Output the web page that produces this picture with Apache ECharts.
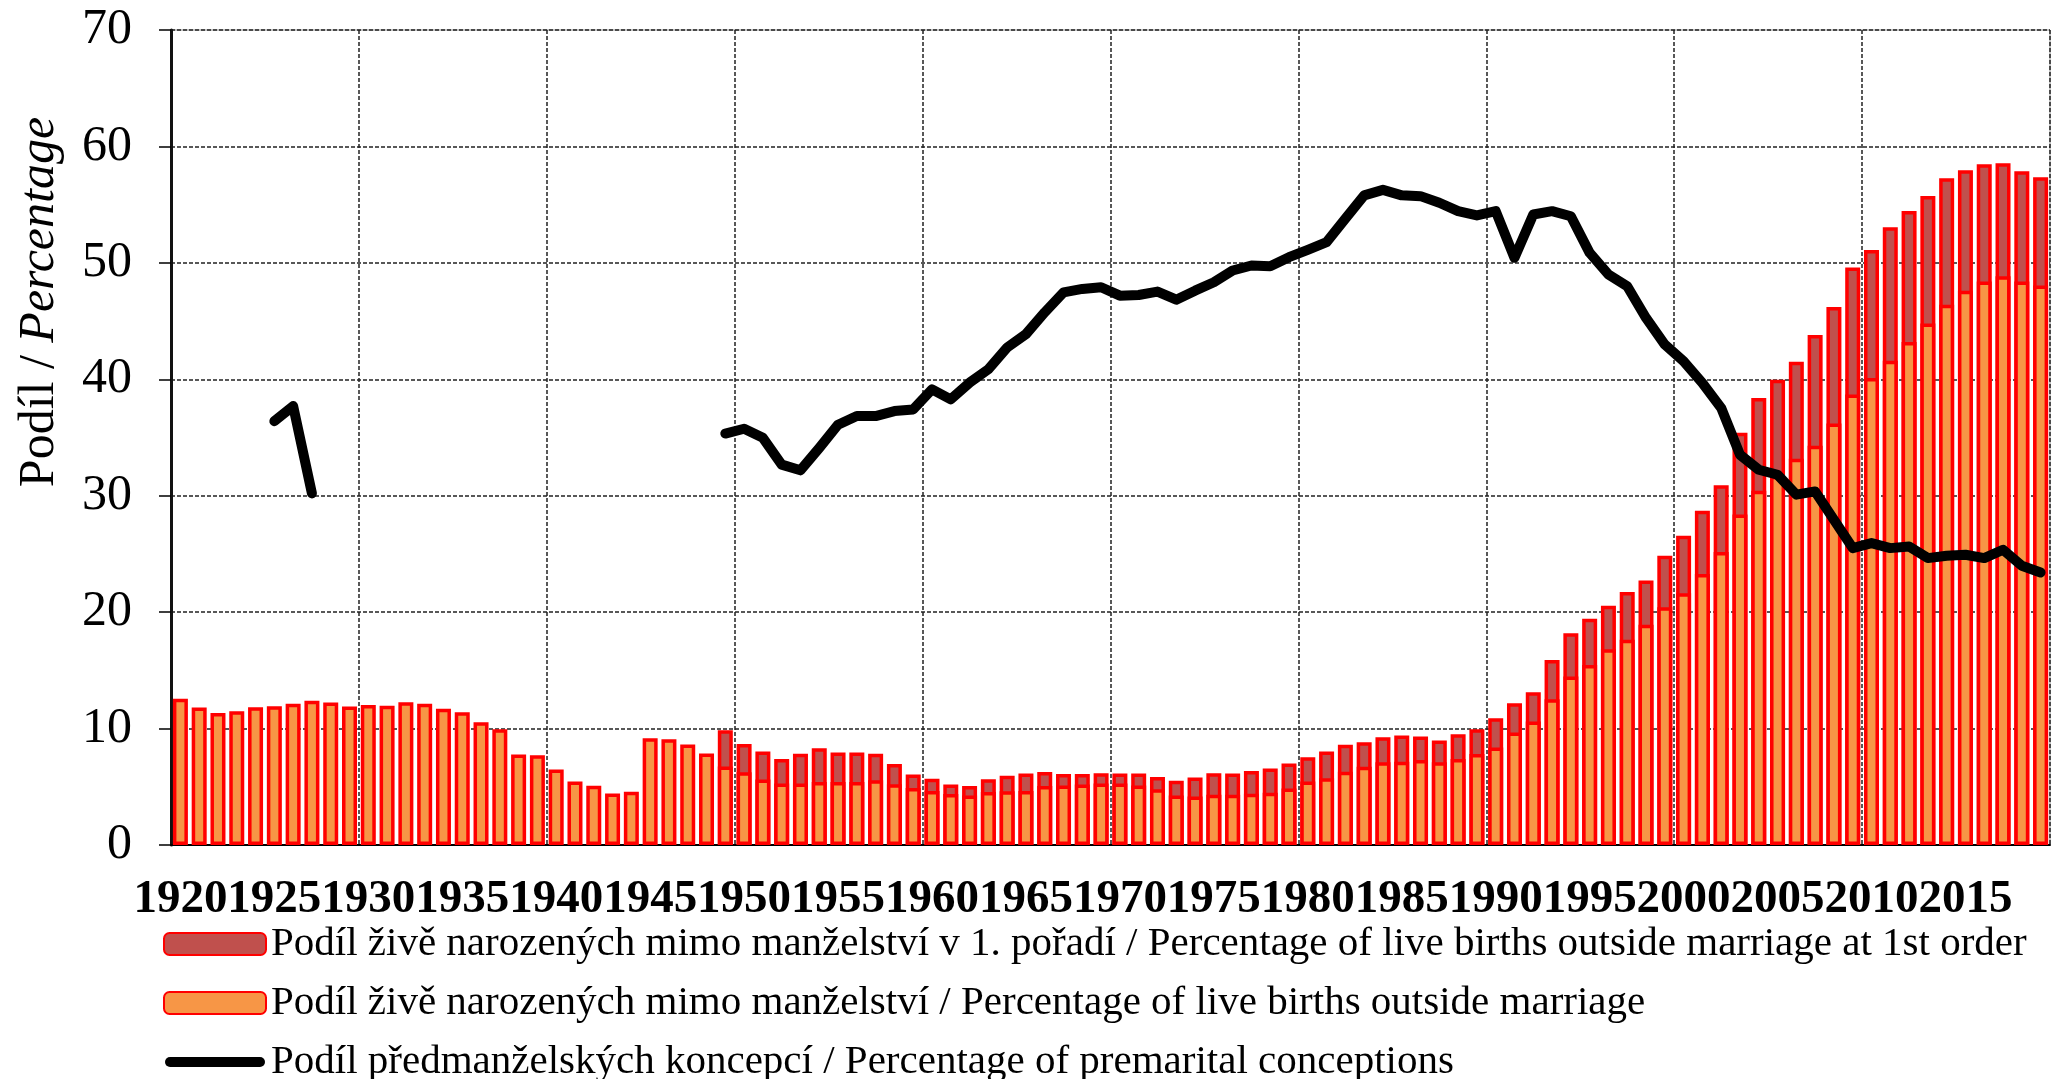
<!DOCTYPE html>
<html>
<head>
<meta charset="utf-8">
<title>Podíl živě narozených mimo manželství</title>
<script src="https://cdn.jsdelivr.net/npm/echarts@6/dist/echarts.min.js"></script>
<style>
  html, body { margin: 0; padding: 0; background: #fff; }
  #chart { width: 2053px; height: 1079px; }
</style>
</head>
<body>
<div id="chart"></div>
<script>
// roky 1920-2019
var years = [];
for (var y = 1920; y <= 2019; y++) years.push(String(y));

// podíl živě narozených mimo manželství (%), 1920-2019
var outsideMarriage = [
  12.57, 11.8, 11.34, 11.49, 11.83, 11.91, 12.14, 12.4, 12.23, 11.89,
  12.03, 11.97, 12.26, 12.14, 11.71, 11.4, 10.54, 9.94, 7.77, 7.71,
  6.49, 5.46, 5.09, 4.43, 4.57, 9.17, 9.09, 8.63, 7.86, 6.74,
  6.25, 5.62, 5.28, 5.28, 5.42, 5.42, 5.42, 5.57, 5.22, 4.9,
  4.64, 4.38, 4.26, 4.55, 4.61, 4.64, 5.07, 5.1, 5.19, 5.28,
  5.28, 5.1, 4.78, 4.26, 4.17, 4.32, 4.32, 4.41, 4.49, 4.86,
  5.46, 5.73, 6.3, 6.73, 7.1, 7.16, 7.31, 7.1, 7.39, 7.82,
  8.37, 9.66, 10.6, 12.52, 14.47, 15.47, 16.82, 17.62, 18.91, 20.43,
  21.63, 23.28, 25.16, 28.38, 30.43, 31.7, 33.17, 34.3, 36.2, 38.7,
  40.1, 41.6, 43.2, 44.8, 46.4, 47.6, 48.4, 48.85, 48.4, 48.05
];

// podíl mimo manželství v 1. pořadí (%), 1949-2019
var firstOrder1949 = [
  9.85,
  8.68, 8.03, 7.39, 7.83, 8.32, 7.94, 7.94, 7.83, 6.96, 6.06,
  5.68, 5.19, 5.07, 5.65, 5.94, 6.14, 6.26, 6.09, 6.09, 6.17,
  6.14, 6.14, 5.83, 5.51, 5.8, 6.17, 6.14, 6.35, 6.58, 7.0,
  7.54, 8.02, 8.6, 8.83, 9.26, 9.4, 9.31, 8.97, 9.51, 9.94,
  10.89, 12.18, 13.12, 15.9, 18.19, 19.43, 20.54, 21.72, 22.72, 24.84,
  26.56, 28.7, 30.9, 35.4, 38.4, 39.95, 41.5, 43.8, 46.2, 49.6,
  51.1, 53.06, 54.46, 55.75, 57.27, 57.95, 58.48, 58.56, 57.87, 57.35
];

// podíl předmanželských koncepcí (%), 1925-1927 a 1949-2019
var conceptions1925 = [36.4, 37.7, 30.2];
var conceptions1949 = [
  35.34,
  35.75, 34.97, 32.67, 32.18, 34.1, 36.1, 36.84, 36.84, 37.27, 37.41,
  39.14, 38.28, 39.71, 40.86, 42.73, 43.88, 45.75, 47.47, 47.76, 47.9,
  47.18, 47.24, 47.53, 46.84, 47.61, 48.33, 49.34, 49.77, 49.71, 50.49,
  51.12, 51.78, 53.79, 55.8, 56.27, 55.8, 55.73, 55.16, 54.44, 54.07,
  54.44, 50.43, 54.15, 54.44, 54.0, 50.86, 49.0, 47.99, 45.27, 42.98,
  41.55, 39.68, 37.54, 33.52, 32.23, 31.8, 30.09, 30.37, 27.94, 25.5,
  25.93, 25.5, 25.64, 24.64, 24.84, 24.93, 24.64, 25.36, 23.98, 23.41
];

var yTicks = [0, 10, 20, 30, 40, 50, 60, 70];

var legendNames = [
  'Podíl živě narozených mimo manželství v 1. pořadí / Percentage of live births outside marriage at 1st order',
  'Podíl živě narozených mimo manželství / Percentage of live births outside marriage',
  'Podíl předmanželských koncepcí / Percentage of premarital conceptions'
];

// doplnit prázdné roky
function placeAt(startYear, values) {
  var out = years.map(function () { return null; });
  values.forEach(function (v, i) {
    out[startYear - 1920 + i] = v;
  });
  return out;
}

var firstOrder = placeAt(1949, firstOrder1949);
var conceptions = placeAt(1925, conceptions1925);
conceptions1949.forEach(function (v, i) { conceptions[29 + i] = v; });

var FONT = '"Liberation Serif", "Times New Roman", serif';

// tlustá čára s kulatými konci pro legendu (M body drží rozměr ikony)
var lineIcon = 'path://M0,0 M102,22 M6,6 L96,6 A5,5 0 0 1 96,16 L6,16 A5,5 0 0 1 6,6 Z';

var chart = echarts.init(document.getElementById('chart'));
var option = {
  animation: false,
  backgroundColor: '#fff',
  textStyle: { fontFamily: FONT, color: '#000' },
  grid: {
    left: 171,
    right: 3,
    top: 30,
    bottom: 234,
    show: true,
    borderColor: '#8a8a8a',
    borderWidth: 1
  },
  legend: {
    orient: 'vertical',
    left: 158,
    top: 918,
    height: 170,
    itemWidth: 102,
    itemHeight: 22,
    itemGap: 17,
    textStyle: { fontFamily: FONT, fontSize: 41, color: '#000', lineHeight: 42 },
    data: [
      { name: legendNames[0] },
      { name: legendNames[1] },
      { name: legendNames[2], icon: lineIcon }
    ]
  },
  graphic: [
    {
      type: 'text',
      x: 40,
      y: 302,
      rotation: Math.PI / 2,
      style: {
        text: '{a|Podíl / }{b|Percentage}',
        align: 'center',
        verticalAlign: 'middle',
        rich: {
          a: { fontFamily: FONT, fontSize: 50, fill: '#000' },
          b: { fontFamily: FONT, fontSize: 50, fontStyle: 'italic', fill: '#000' }
        }
      }
    }
  ],
  xAxis: [
    {
      type: 'category',
      data: years,
      boundaryGap: true,
      axisLine: { lineStyle: { color: '#000', width: 2 } },
      axisTick: { interval: 4, length: 7, lineStyle: { color: '#000', width: 1.5 } },
      axisLabel: {
        interval: 4,
        margin: 31,
        fontFamily: FONT,
        fontSize: 47,
        fontWeight: 'bold',
        color: '#000'
      },
      splitLine: {
        show: true,
        interval: 9,
        lineStyle: { color: '#222', width: 1.5, type: [4, 2] }
      }
    },
    {
      // delší značky po 10 letech
      type: 'category',
      data: years,
      position: 'bottom',
      boundaryGap: true,
      axisLine: { show: false },
      axisTick: { interval: 9, length: 13, lineStyle: { color: '#000', width: 1.5 } },
      axisLabel: { show: false },
      splitLine: { show: false }
    }
  ],
  yAxis: {
    type: 'value',
    min: yTicks[0],
    max: yTicks[yTicks.length - 1],
    interval: 10,
    axisLine: { show: true, lineStyle: { color: '#111', width: 3 } },
    axisTick: { show: true, length: 12, lineStyle: { color: '#000', width: 1.5 } },
    axisLabel: {
      margin: 39,
      fontFamily: FONT,
      fontSize: 50,
      color: '#000'
    },
    splitLine: {
      show: true,
      lineStyle: { color: '#222', width: 1.5, type: [4, 2] }
    }
  },
  series: [
    {
      name: legendNames[0],
      type: 'bar',
      data: firstOrder,
      barWidth: 15,
      barGap: '-100%',
      itemStyle: { color: '#C0504D', borderColor: '#FF0000', borderWidth: 3.5 }
    },
    {
      name: legendNames[1],
      type: 'bar',
      data: outsideMarriage,
      barWidth: 15,
      barGap: '-100%',
      itemStyle: { color: '#F79646', borderColor: '#FF0000', borderWidth: 3.5 }
    },
    {
      name: legendNames[2],
      type: 'line',
      data: conceptions,
      symbol: 'none',
      connectNulls: false,
      z: 5,
      lineStyle: { color: '#000', width: 10, cap: 'round', join: 'round' },
      itemStyle: { color: '#000' }
    }
  ]
};

chart.setOption(option);
</script>
</body>
</html>
